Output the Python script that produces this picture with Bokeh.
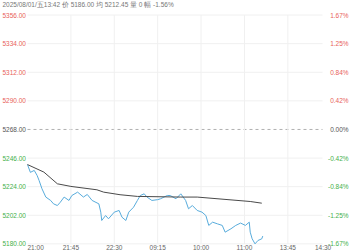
from bokeh.plotting import figure
from bokeh.models import ColumnDataSource, Range1d
from bokeh.core.properties import value
from bokeh.embed import file_html
from bokeh.resources import INLINE

# ---------------- data ----------------
prev_close = 5268.0
price_levels = [5356, 5334, 5312, 5290, 5268, 5246, 5224, 5202, 5180]
time_ticks = [0, 45, 90, 135, 180, 225, 270, 315]
time_labels = ["21:00", "21:45", "22:30", "09:15", "10:00", "11:00", "13:45", "14:30"]
grid_ticks = [45, 90, 135, 180, 225, 270]

price_t = [0, 3, 7, 10, 12, 15, 19, 24, 27, 31, 34, 38, 43, 46, 52, 58, 62, 67, 74, 76,
           77, 81, 84, 90, 95, 98, 102, 105, 110, 114, 117, 121, 124, 129, 135, 138, 145,
           148, 154, 159, 164, 167, 171, 176, 181, 185, 188, 192, 197, 202, 205, 211, 216,
           221, 226, 230, 231, 233, 236, 239, 243, 244]
price_v = [5241, 5235, 5236.5, 5232.6, 5228.8, 5222.4, 5216, 5213.4, 5210.8, 5209.5, 5212,
           5216, 5213.4, 5217.2, 5219.8, 5216, 5218, 5213.4, 5210.8, 5204.4, 5198, 5201.8,
           5199.3, 5204.4, 5205.7, 5200.5, 5198, 5204.4, 5208.2, 5213.4, 5217.2, 5218.5,
           5216, 5213.4, 5214, 5214.7, 5217.2, 5217.2, 5214.7, 5218.5, 5213.4, 5207,
           5209.5, 5205.7, 5204.4, 5201.8, 5194.2, 5196.7, 5195.4, 5194.2, 5189, 5191.6,
           5194.2, 5196, 5194.2, 5196.7, 5189, 5183.9, 5180, 5182.6, 5183.9, 5186]

avg_t = [0, 17, 31, 45, 72, 79, 96, 114, 159, 176, 231, 243]
avg_v = [5241, 5235.2, 5226.2, 5224.2, 5221.6, 5219.8, 5217.8, 5216.5, 5216, 5216, 5212.6, 5211.3]

header = "2025/08/01/五13:42  价 5186.00  均 5212.45  量 0  幅 -1.56%"

# ---------------- figure ----------------
FONT = value("Liberation Sans")
FS = "6.5px"
RED = "#e8615a"
GREEN = "#45b04a"
GREY = "#555555"

y_lo, y_hi = 5174.9, 5367.2
p = figure(width=350, height=250, output_backend="svg", toolbar_location=None,
           x_range=Range1d(-28, 335), y_range=Range1d(y_lo, y_hi),
           min_border=0, min_border_left=0, min_border_right=0,
           min_border_top=0, min_border_bottom=0)
p.axis.visible = False
p.grid.visible = False
p.outline_line_color = None
p.background_fill_color = "white"

x_end = 306
x0 = time_ticks[0]

# horizontal grid
solid = [v for v in price_levels if v != prev_close]
p.segment(x0=[x0] * len(solid), x1=[x_end] * len(solid), y0=solid, y1=solid,
          line_color="#f0f0f0", line_width=1)
p.segment(x0=[x0], x1=[x_end], y0=[prev_close], y1=[prev_close],
          line_color="#b0b0b0", line_width=1, line_dash="3 3")
# vertical grid
p.segment(x0=grid_ticks, x1=grid_ticks, y0=[price_levels[-1]] * len(grid_ticks),
          y1=[price_levels[0]] * len(grid_ticks), line_color="#f0f0f0", line_width=1)

# lines
p.line(price_t, price_v, line_color="#58acdc", line_width=1)
p.line(avg_t, avg_v, line_color="#4a4a4a", line_width=1)

# labels
def col(v):
    if v > prev_close:
        return RED
    if v < prev_close:
        return GREEN
    return GREY

left_src = ColumnDataSource(dict(
    x=[-26] * len(price_levels), y=price_levels,
    t=["%.2f" % v for v in price_levels],
    c=[col(v) for v in price_levels]))
p.text(x="x", y="y", text="t", text_color="c", source=left_src,
       text_font=FONT, text_font_size=FS, text_align="left", text_baseline="middle")

pct = []
for v in price_levels:
    s = "%.2f%%" % ((v - prev_close) / prev_close * 100)
    pct.append("0.00%" if s in ("-0.00%", "0.00%") else s)
right_src = ColumnDataSource(dict(
    x=[333] * len(price_levels), y=price_levels, t=pct,
    c=[col(v) for v in price_levels]))
p.text(x="x", y="y", text="t", text_color="c", source=right_src,
       text_font=FONT, text_font_size=FS, text_align="right", text_baseline="middle")

aligns = ["left"] + ["center"] * (len(time_ticks) - 2) + ["right"]
bot_src = ColumnDataSource(dict(x=time_ticks, y=[y_lo] * len(time_ticks), t=time_labels, a=aligns))
p.text(x="x", y="y", text="t", source=bot_src, text_align="a", text_color="#666666",
       text_font=FONT, text_font_size=FS, text_baseline="bottom")

p.text(x=[-26], y=[y_hi], text=[header], text_color="#777777", text_font=FONT,
       text_font_size=FS, text_align="left", text_baseline="top")

open("out.html", "w").write(file_html(p, INLINE))
